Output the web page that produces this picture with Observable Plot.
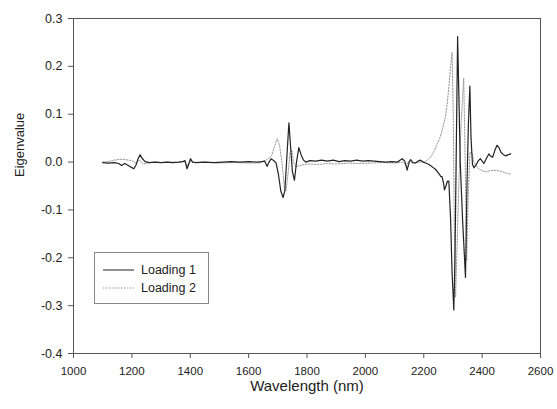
<!DOCTYPE html>
<html>
<head>
<meta charset="utf-8">
<script src="https://cdn.jsdelivr.net/npm/d3@7"></script>
<script src="https://cdn.jsdelivr.net/npm/@observablehq/plot@0.6"></script>
<style>
  html, body { margin: 0; padding: 0; background: #fff; }
  #wrap { position: relative; width: 557px; height: 409px; font-family: "Liberation Sans", Arial, sans-serif; }
  #legend { position: absolute; left: 94px; top: 252px; width: 113px; height: 50px; border: 1px solid #888; background: #fff; font-size: 12.5px; color: #222; }
  #legend .row { position: absolute; left: 0; height: 14px; line-height: 14px; }
  #legend svg { position: absolute; left: 8px; top: 0; }
  #legend span { position: absolute; left: 46px; top: 0; white-space: nowrap; }
</style>
</head>
<body>
<div id="wrap"></div>
<script>
// Loading 1 (solid)
const wl1 = [1100,1120,1140,1155,1165,1175,1185,1195,1207,1215,1222,1228,1235,1245,1260,1280,1300,1320,1340,1360,1375,1382,1389,1395,1401,1408,1420,1450,1480,1510,1540,1570,1600,1630,1645,1655,1663,1670,1677,1686,1694,1702,1710,1718,1724,1730,1738,1744,1750,1757,1764,1772,1780,1788,1796,1810,1830,1850,1870,1890,1910,1930,1950,1970,1990,2010,2030,2050,2070,2090,2110,2126,2135,2143,2150,2155,2163,2172,2180,2189,2198,2206,2215,2229,2240,2252,2258,2263,2268,2271,2276,2281,2286,2292,2297,2303,2307,2311,2316,2320,2325,2333,2343,2348,2353,2358,2362,2367,2372,2380,2387,2394,2400,2406,2415,2423,2430,2436,2444,2451,2458,2465,2472,2480,2488,2498];
const load1 = [-0.001,-0.002,-0.001,-0.003,-0.007,-0.003,-0.006,-0.010,-0.014,-0.005,0.008,0.015,0.008,0.001,-0.001,0.0,-0.001,0.0,-0.001,0.0,0.001,0.003,-0.014,-0.004,0.007,0.0,-0.001,0.0,-0.001,0.0,0.001,0.0,0.001,0.0,0.001,0.002,-0.009,0.0,0.007,0.003,-0.002,-0.025,-0.06,-0.074,-0.06,0.0,0.082,0.03,-0.02,-0.038,0.0,0.030,0.015,0.004,0.0,0.003,0.002,0.004,0.002,0.004,0.001,0.003,0.002,0.004,0.002,0.003,0.002,0.001,0.0,0.001,0.0,0.007,0.002,-0.017,0.0,0.005,-0.001,-0.002,0.002,0.004,0.0,-0.002,-0.004,-0.010,-0.015,-0.024,-0.030,-0.031,-0.045,-0.058,-0.05,-0.040,-0.040,-0.12,-0.23,-0.309,-0.2,0.0,0.262,0.15,0.0,-0.12,-0.241,-0.05,0.08,0.159,0.05,-0.005,-0.012,-0.005,0.003,0.007,0.002,-0.003,0.008,0.017,0.012,0.01,0.025,0.035,0.03,0.02,0.016,0.013,0.015,0.017];
// Loading 2 (dotted)
const wl2 = [1100,1120,1140,1160,1180,1200,1212,1225,1240,1255,1270,1300,1330,1360,1380,1390,1398,1410,1450,1500,1550,1600,1640,1660,1670,1680,1690,1698,1706,1714,1722,1728,1734,1742,1748,1754,1762,1772,1790,1810,1840,1870,1900,1940,1980,2020,2060,2100,2130,2140,2148,2160,2190,2206,2215,2223,2235,2246,2255,2263,2274,2280,2286,2292,2297,2301,2305,2309,2313,2320,2328,2337,2342,2347,2352,2358,2365,2372,2380,2390,2400,2410,2418,2428,2440,2455,2470,2485,2498];
const load2 = [0.0,0.001,0.004,0.006,0.005,0.003,-0.002,0.004,-0.004,-0.002,0.0,-0.001,0.0,-0.001,0.002,-0.008,0.002,-0.001,0.0,-0.002,-0.001,-0.002,-0.002,0.004,0.008,0.015,0.035,0.049,0.035,0.0,-0.05,-0.06,-0.03,0.02,0.025,0.0,-0.01,-0.008,-0.005,-0.004,-0.005,-0.003,-0.004,-0.002,-0.003,-0.002,-0.001,-0.002,0.0,-0.008,0.002,-0.002,0.0,0.001,0.006,0.010,0.022,0.038,0.05,0.066,0.094,0.12,0.157,0.2,0.229,0.1,-0.15,-0.283,-0.2,-0.05,0.08,0.175,0.0,-0.206,-0.08,0.02,0.02,0.0,-0.008,-0.015,-0.018,-0.02,-0.02,-0.018,-0.017,-0.018,-0.02,-0.024,-0.025];

const xTicks = [1000,1200,1400,1600,1800,2000,2200,2400,2600];
const yTicks = [-0.4,-0.3,-0.2,-0.1,0.0,0.1,0.2,0.3];
const seriesNames = ["Loading 1", "Loading 2"];

const d1 = wl1.map((w, i) => ({w, v: load1[i]}));
const d2 = wl2.map((w, i) => ({w, v: load2[i]}));

const chart = Plot.plot({
  width: 557,
  height: 409,
  marginLeft: 73,
  marginRight: 17,
  marginTop: 18,
  marginBottom: 56,
  style: {fontFamily: "'Liberation Sans', Arial, sans-serif", fontSize: "11px", color: "#222", background: "#fff"},
  x: {domain: [1000, 2600]},
  y: {domain: [-0.4, 0.3]},
  marks: [
    Plot.line(d2, {x: "w", y: "v", stroke: "#999", strokeWidth: 1, strokeDasharray: "1.5,1.5"}),
    Plot.line(d1, {x: "w", y: "v", stroke: "#222", strokeWidth: 1.2}),
    Plot.frame({stroke: "#555"}),
    Plot.axisX({ticks: xTicks, tickSize: 5, tickPadding: 8, fontSize: 11.5, tickFormat: d => String(d), label: null, stroke: "#555"}),
    Plot.axisY({ticks: yTicks, tickSize: 5, tickPadding: 6, fontSize: 12.5, tickFormat: d => d.toFixed(1), label: null, stroke: "#555"}),
    Plot.text(["Wavelength (nm)"], {frameAnchor: "bottom", dy: 37, fontSize: 15, fill: "#222"}),
    Plot.text(["Eigenvalue"], {frameAnchor: "left", dx: -54, dy: -9, rotate: -90, fontSize: 13, fill: "#222"})
  ]
});
const wrap = document.getElementById("wrap");
wrap.appendChild(chart);

const legend = document.createElement("div");
legend.id = "legend";
const rows = [
  {name: seriesNames[0], top: 10, stroke: "#222", dash: null},
  {name: seriesNames[1], top: 28, stroke: "#999", dash: "1.5,1.5"}
];
for (const r of rows) {
  const row = document.createElement("div");
  row.className = "row";
  row.style.top = r.top + "px";
  row.style.width = "113px";
  row.innerHTML = `<svg width="32" height="14"><line x1="0" x2="31" y1="7" y2="7" stroke="${r.stroke}" stroke-width="1" ${r.dash ? `stroke-dasharray="${r.dash}"` : ""}/></svg><span>${r.name}</span>`;
  legend.appendChild(row);
}
wrap.appendChild(legend);
</script>
</body>
</html>
